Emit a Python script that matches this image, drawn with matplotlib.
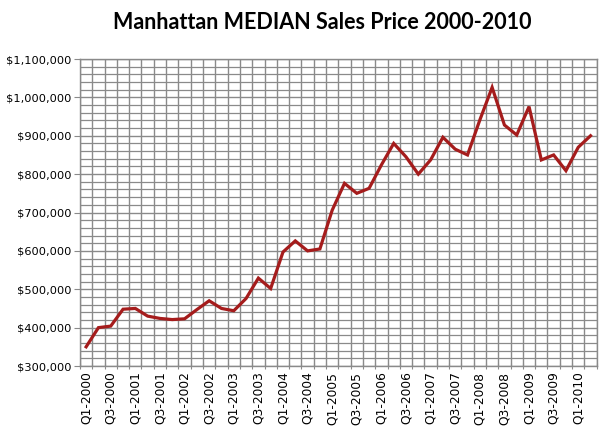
import numpy as np
import matplotlib
matplotlib.use('Agg')
import matplotlib.pyplot as plt
from matplotlib.ticker import FixedLocator, MultipleLocator, FuncFormatter

# quarterly median sales price, Q1-2000 .. Q2-2010
quarters = ['Q%d-%d' % (q, y) for y in range(2000, 2011) for q in range(1, 5)][:42]
prices = [350000, 400000, 404000, 448000, 450000, 430000, 424000, 421000,
          423000, 447000, 470000, 450000, 444000, 476000, 529000, 502000,
          597000, 626000, 600000, 605000, 706000, 776000, 750000, 763000,
          824000, 880000, 845000, 800000, 837000, 896000, 865000, 850000,
          941000, 1026000, 928000, 902000, 976000, 837000, 850000, 809000,
          870000, 900000]

grid_color = '#8a8a8a'

fig = plt.figure(figsize=(6, 4.43), dpi=100)
ax = fig.add_axes([0.1333, 0.1738, 0.8612, 0.693])

x = np.arange(len(quarters))
ax.plot(x, prices, color='#a51c1c', linewidth=2.3, solid_joinstyle='miter', zorder=3)

ax.set_xlim(-0.5, len(quarters) - 0.5)
ax.set_ylim(300000, 1100000)

# category boundaries get gridlines and tick marks, labels sit at every other category
ax.xaxis.set_major_locator(FixedLocator(np.arange(-0.5, len(quarters), 1.0)))
ax.xaxis.set_major_formatter(FuncFormatter(lambda v, p: ''))
ax.xaxis.set_minor_locator(FixedLocator(x[::2]))
ax.set_xticklabels(quarters[::2], minor=True, rotation=90, fontsize=8.8)
ax.tick_params(axis='x', which='major', length=5, direction='inout', color=grid_color)
ax.tick_params(axis='x', which='minor', length=0, pad=4)

ax.yaxis.set_major_locator(MultipleLocator(100000))
ax.yaxis.set_minor_locator(MultipleLocator(20000))
ax.yaxis.set_major_formatter(FuncFormatter(lambda v, p: '${:,.0f}'.format(v)))
ax.tick_params(axis='y', which='major', length=4, color=grid_color, labelsize=8.2, pad=2)
ax.tick_params(axis='y', which='minor', length=0)

ax.grid(True, which='major', color=grid_color, linewidth=1.0)
ax.grid(True, which='minor', axis='y', color=grid_color, linewidth=0.9)
ax.set_axisbelow(True)

for s in ax.spines.values():
    s.set_color(grid_color)
    s.set_linewidth(1.0)

fig.text(0.537, 0.95, 'Manhattan MEDIAN Sales Price 2000-2010', ha='center', va='center',
         fontsize=15.5, fontweight='bold', family='Lato')

fig.savefig('out.png', dpi=100)
